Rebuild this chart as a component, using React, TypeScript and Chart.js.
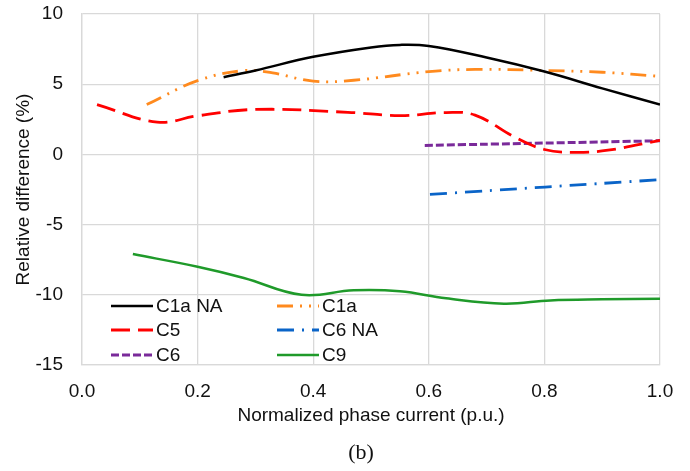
import React, { useEffect, useRef } from "react";
import { Chart, registerables } from "chart.js";

Chart.register(...registerables);

const seriesNames = ["C1a NA", "C1a", "C5", "C6 NA", "C6", "C9"];

const c1aNaX = [0.245, 0.3, 0.4, 0.5, 0.55, 0.6, 0.7, 0.8, 0.9, 1.0];
const c1aNaY = [5.5, 5.98, 6.95, 7.62, 7.8, 7.72, 6.9, 5.9, 4.7, 3.55];

const c1aX = [0.112, 0.2, 0.28, 0.33, 0.4, 0.47, 0.6, 0.68, 0.8, 0.9, 1.0];
const c1aY = [3.55, 5.25, 5.97, 5.8, 5.22, 5.28, 5.9, 6.05, 5.98, 5.85, 5.56];

const c5X = [0.026, 0.13, 0.2, 0.3, 0.46, 0.55, 0.63, 0.68, 0.75, 0.8, 0.85, 0.91, 1.0];
const c5Y = [3.55, 2.3, 2.75, 3.2, 3.0, 2.76, 2.98, 2.8, 1.2, 0.35, 0.14, 0.3, 1.0];

const c6NaX = [0.602, 1.0];
const c6NaY = [-2.85, -1.8];

const c6X = [0.593, 1.0];
const c6Y = [0.64, 0.97];

const c9X = [0.088, 0.2, 0.28, 0.38, 0.47, 0.55, 0.63, 0.73, 0.81, 0.9, 1.0];
const c9Y = [-7.1, -8.0, -8.8, -10.0, -9.68, -9.75, -10.25, -10.63, -10.4, -10.32, -10.28];

const xTicks = [0, 0.2, 0.4, 0.6, 0.8, 1.0];
const yTicks = [-15, -10, -5, 0, 5, 10];

const colors = ["#000000", "#ff8a1e", "#ff0000", "#0a64c8", "#7a2a9a", "#1f9a2a"];
const dashes = [[], [16, 7, 2, 7, 2, 7], [19, 8], [17, 8, 2, 8], [8, 3], []];
const widths = [2.5, 2.8, 2.8, 2.8, 3, 2.5];

const FONT = "Liberation Sans, Arial, sans-serif";

function zip(xs: number[], ys: number[]) {
  return xs.map((x, i) => ({ x, y: ys[i] }));
}

const legendPlugin = {
  id: "insideLegend",
  afterDatasetsDraw(chart: any) {
    const ctx = chart.ctx;
    const { left, bottom } = chart.chartArea;
    const cols = [left + 29, left + 195];
    const rows = [bottom - 59, bottom - 35, bottom - 10];
    ctx.save();
    ctx.font = `19px ${FONT}`;
    ctx.textBaseline = "middle";
    ctx.fillStyle = "#111";
    chart.data.datasets.forEach((ds: any, i: number) => {
      const cx = cols[i % 2];
      const cy = rows[Math.floor(i / 2)];
      ctx.beginPath();
      ctx.strokeStyle = ds.borderColor;
      ctx.lineWidth = ds.borderWidth;
      ctx.setLineDash(ds.borderDash || []);
      ctx.moveTo(cx, cy);
      ctx.lineTo(cx + 42, cy);
      ctx.stroke();
      ctx.setLineDash([]);
      ctx.fillText(ds.label, cx + 45, cy + 1);
    });
    ctx.restore();
  },
};

const captionPlugin = {
  id: "caption",
  afterDraw(chart: any) {
    const ctx = chart.ctx;
    ctx.save();
    ctx.font = `22px "Liberation Serif", "Times New Roman", serif`;
    ctx.fillStyle = "#111";
    ctx.textAlign = "center";
    ctx.textBaseline = "middle";
    ctx.fillText("(b)", 361, 453);
    ctx.restore();
  },
};

export default function App() {
  const ref = useRef<HTMLCanvasElement | null>(null);

  useEffect(() => {
    if (!ref.current) return;
    const xs = [c1aNaX, c1aX, c5X, c6NaX, c6X, c9X];
    const ys = [c1aNaY, c1aY, c5Y, c6NaY, c6Y, c9Y];
    const chart = new Chart(ref.current, {
      type: "line",
      data: {
        datasets: seriesNames.map((name, i) => ({
          label: name,
          data: zip(xs[i], ys[i]),
          borderColor: colors[i],
          backgroundColor: colors[i],
          borderDash: dashes[i],
          borderWidth: widths[i],
          pointRadius: 0,
          tension: 0.4,
          fill: false,
        })),
      },
      options: {
        animation: false,
        responsive: false,
        layout: { padding: { top: 14, right: 30, bottom: 44, left: 0 } },
        plugins: { legend: { display: false }, tooltip: { enabled: false } },
        scales: {
          x: {
            type: "linear",
            min: 0,
            max: 1,
            afterFit: (s: any) => {
              s.height = 62;
              s.paddingLeft = 0;
              s.paddingRight = 0;
            },
            afterBuildTicks: (s: any) => {
              s.ticks = xTicks.map((v) => ({ value: v }));
            },
            ticks: {
              font: { size: 19, family: FONT },
              color: "#111",
              padding: 15,
              maxRotation: 0,
              callback: (v: any) => Number(v).toFixed(1),
            },
            grid: { color: "#d9d9d9", lineWidth: 1.3, drawTicks: false },
            border: { color: "#d9d9d9", width: 1.3 },
            title: {
              display: true,
              text: "Normalized phase current (p.u.)",
              font: { size: 19, family: FONT },
              color: "#111",
              padding: { top: 0, bottom: 0 },
            },
          },
          y: {
            type: "linear",
            min: -15,
            max: 10,
            afterFit: (s: any) => {
              s.width = 82;
              s.paddingTop = 0;
              s.paddingBottom = 0;
            },
            afterBuildTicks: (s: any) => {
              s.ticks = yTicks.map((v) => ({ value: v }));
            },
            ticks: {
              font: { size: 19, family: FONT },
              color: "#111",
              padding: 19,
              callback: (v: any) => String(v),
            },
            grid: { color: "#d9d9d9", lineWidth: 1.3, drawTicks: false },
            border: { color: "#d9d9d9", width: 1.3 },
            title: {
              display: true,
              text: "Relative difference (%)",
              font: { size: 19, family: FONT },
              color: "#111",
              padding: { top: 12, bottom: 0 },
            },
          },
        },
      },
      plugins: [legendPlugin, captionPlugin],
    });
    return () => chart.destroy();
  }, []);

  return (
    <div style={{ position: "fixed", left: 0, top: 0, width: 690, height: 471, background: "#fff" }}>
      <canvas ref={ref} width={690} height={471} style={{ width: 690, height: 471 }} />
    </div>
  );
}
